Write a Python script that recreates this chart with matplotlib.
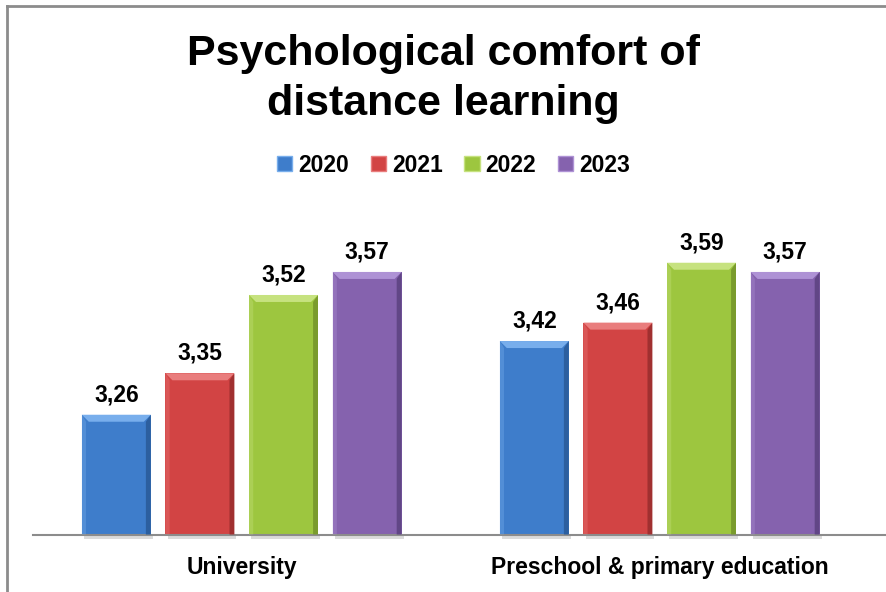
import matplotlib
matplotlib.use("Agg")
import matplotlib.pyplot as plt
from matplotlib.patches import Polygon, Rectangle
from matplotlib.lines import Line2D

# Data
categories = ["University", "Preschool & primary education"]
years = ["2020", "2021", "2022", "2023"]
university = [3.26, 3.35, 3.52, 3.57]
preschool = [3.42, 3.46, 3.59, 3.57]

# face, top bevel, right edge
face_colors = ["#3e7dcb", "#d24444", "#9dc63f", "#8562ae"]
top_colors = ["#78aeec", "#e97d7d", "#c6e27f", "#ae92d5"]
side_colors = ["#2c5f9f", "#a03030", "#7a9b2d", "#614686"]

plt.rcParams["font.family"] = ["Liberation Sans", "DejaVu Sans"]
plt.rcParams["font.weight"] = "bold"

W, H = 886, 592
fig = plt.figure(figsize=(W / 100, H / 100), dpi=100)
ax = fig.add_axes([32.7 / W, (H - 534.5) / H, (W - 32.7) / W, 299.4 / H])

y0 = 3.0
ax.set_xlim(-0.5, 1.5 + 17.3 / 418)
ax.set_ylim(y0, 3.65)
for s in ["top", "left", "right"]:
    ax.spines[s].set_visible(False)
ax.spines["bottom"].set_color("#8c8c8c")
ax.spines["bottom"].set_linewidth(1.5)
ax.set_xticks([])
ax.set_yticks([])

offsets = [-0.3, -0.1, 0.1, 0.3]
width = 0.165
bx = 7 / 418
by = 7 / 460.6

series = list(zip(university, preschool))
for j, year in enumerate(years):
    for i, v in enumerate(series[j]):
        x = i + offsets[j]
        x0, x1 = x - width / 2, x + width / 2
        ax.bar(x, v - y0, bottom=y0, width=width, color=face_colors[j], zorder=2)
        # soft shadow below the bar
        ax.add_patch(Rectangle((x0 + bx * 0.3, y0 - 4 / 460.6), width, 4 / 460.6,
                               color="#b0b0b0", alpha=0.45, lw=0, clip_on=False, zorder=1))
        # bevel
        ax.add_patch(Polygon([(x1 - bx * 0.7, y0), (x1, y0), (x1, v), (x1 - bx * 0.7, v - by)],
                             closed=True, color=side_colors[j], lw=0, zorder=3))
        ax.add_patch(Polygon([(x0, y0), (x0 + bx * 0.6, y0), (x0 + bx * 0.6, v - by), (x0, v)],
                             closed=True, color=top_colors[j], alpha=0.35, lw=0, zorder=3))
        ax.add_patch(Polygon([(x0, v), (x1, v), (x1 - bx, v - by), (x0 + bx, v - by)],
                             closed=True, color=top_colors[j], lw=0, zorder=3))
        ax.annotate(f"{v:.2f}".replace(".", ","), xy=(x, v), xytext=(0, 14.4),
                    textcoords="offset points", ha="center", va="center",
                    fontsize=16.5, fontweight="bold", color="black")

for i, cat in enumerate(categories):
    ax.annotate(cat, xy=(i, 0), xycoords=("data", "axes fraction"),
                xytext=(0, -23.5), textcoords="offset points",
                ha="center", va="center", fontsize=16.5, fontweight="bold")

# Title
fig.text(0.5, 1 - 65 / H, "Psychological comfort of", ha="center", va="baseline",
         fontsize=31, fontweight="bold")
fig.text(0.5, 1 - 115 / H, "distance learning", ha="center", va="baseline",
         fontsize=31, fontweight="bold")

# Legend
handles = [Rectangle((0, 0), 1, 1, facecolor=face_colors[j], edgecolor=top_colors[j], lw=1)
           for j in range(len(years))]
fig.legend(handles, years, loc="center", bbox_to_anchor=(453.5 / W, 1 - 165 / H),
           ncol=4, frameon=False, prop={"size": 16.5, "weight": "bold"},
           handlelength=0.66, handleheight=0.66, handletextpad=0.27,
           columnspacing=0.95, borderpad=0, borderaxespad=0)

# Outer frame
fig.add_artist(Line2D([7 / W, 1], [1 - 6 / H, 1 - 6 / H], color="#8c8c8c", lw=2,
                      transform=fig.transFigure))
fig.add_artist(Line2D([7 / W, 7 / W], [0, 1 - 6 / H], color="#8c8c8c", lw=2,
                      transform=fig.transFigure))

fig.savefig("out.png", dpi=100)
